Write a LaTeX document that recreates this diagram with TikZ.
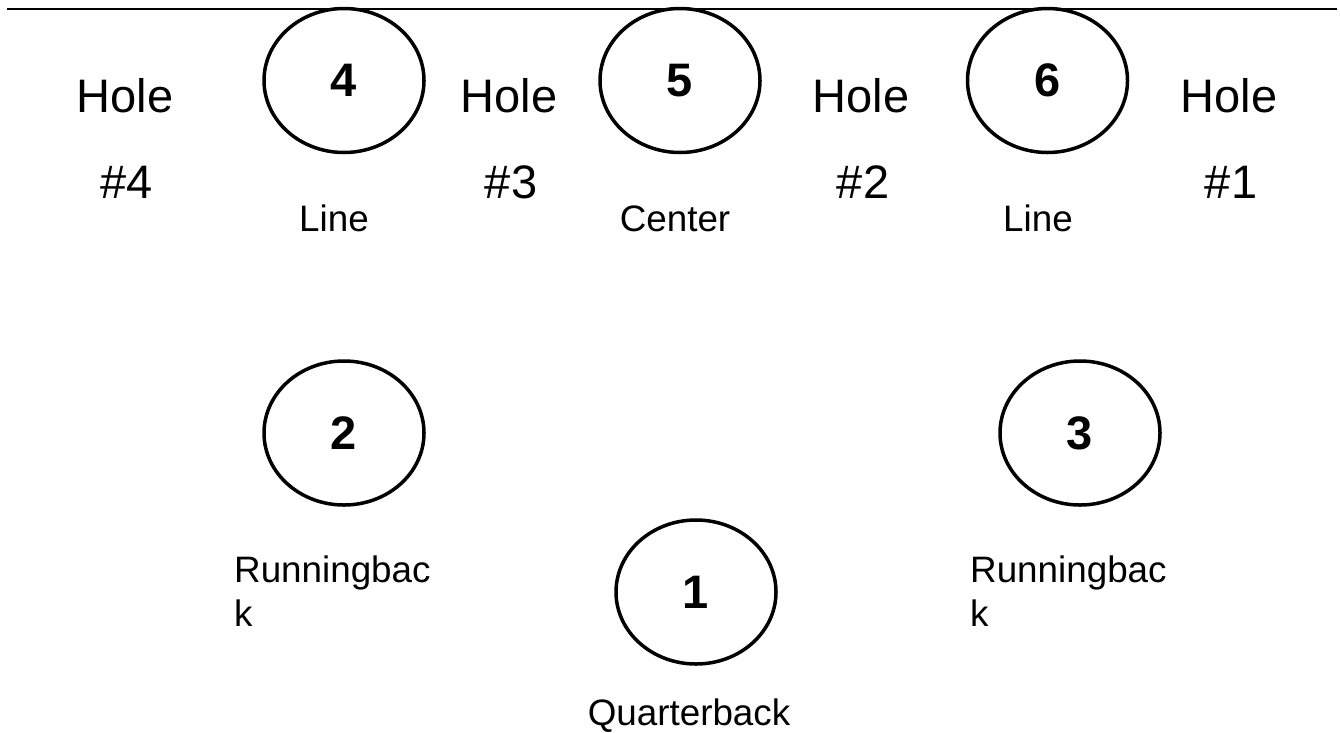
\documentclass[tikz,border=0pt]{standalone}
\usepackage{fontspec}
\setmainfont{Liberation Sans}
\usetikzlibrary{shapes.geometric}

\begin{document}
\begin{tikzpicture}[x=1pt,y=-1pt,
	player/.style={draw, ellipse, line width=3.5pt, minimum width=160pt, minimum height=144pt, inner sep=0pt, font=\fontsize{47}{56}\selectfont\bfseries},
	hole/.style={anchor=base, inner sep=0pt, font=\fontsize{47}{56}\selectfont},
	role/.style={anchor=base, inner sep=0pt, font=\fontsize{36.8}{44}\selectfont}]
	\useasboundingbox (0,0) rectangle (1340,732);
	\coordinate (lineL) at (7,9.3);
	\coordinate (lineR) at (1337,9.3);
	\draw[line width=2pt] (lineL) -- (lineR);
	% offensive line
	\node[player] (p4) at (344,80.5) {4};
	\node[player] (p5) at (680,80.5) {5};
	\node[player] (p6) at (1047.5,80.5) {6};
	% backs
	\node[player] (p2) at (344,433) {2};
	\node[player] (p3) at (1080,433) {3};
	\node[player] (p1) at (696,592) {1};
	% holes
	\node[hole] (hole4) at (125,112) {Hole};
	\node[hole] (num4) at (127,198) {\#4};
	\node[hole] (hole3) at (509,112) {Hole};
	\node[hole] (num3) at (511,198) {\#3};
	\node[hole] (hole2) at (861,112) {Hole};
	\node[hole] (num2) at (863,198) {\#2};
	\node[hole] (hole1) at (1229,112) {Hole};
	\node[hole] (num1) at (1231,198) {\#1};
	% roles
	\node[role] (r4) at (334,231) {Line};
	\node[role] (r5) at (675,231) {Center};
	\node[role] (r6) at (1038,231) {Line};
	\node[role, anchor=base west, align=left] (r2) at (234,626) {Runningbac\\k};
	\node[role, anchor=base west, align=left] (r3) at (970,626) {Runningbac\\k};
	\node[role] (r1) at (689,725) {Quarterback};
\end{tikzpicture}
\end{document}
